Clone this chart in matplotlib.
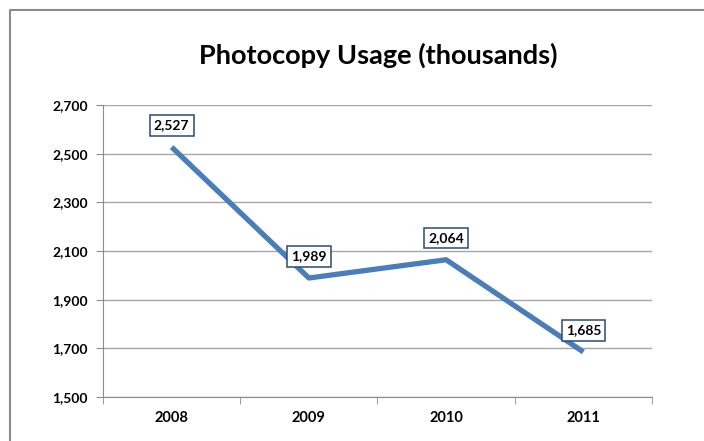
import numpy as np
import matplotlib.pyplot as plt
from matplotlib.lines import Line2D

years = ['2008', '2009', '2010', '2011']
usage = [2527, 1989, 2064, 1685]

plt.rcParams['font.family'] = ['Lato', 'DejaVu Sans']
plt.rcParams['font.weight'] = 'bold'

fig = plt.figure(figsize=(7.04, 4.41), dpi=100)
fig.patch.set_facecolor('white')

# borde del grafico (solo izquierda y arriba)
bx, by = 9.5/704, 1 - 9.5/441
fig.lines.append(Line2D([bx, bx, 1.0], [0.0, by, by], transform=fig.transFigure,
                        color='#8c8c8c', linewidth=1.5))

ax = fig.add_axes([103/704, 44/441, 549/704, 292/441])
x = np.arange(len(years))
ax.plot(x, usage, color='#4a7ebb', linewidth=3.8, solid_capstyle='butt', zorder=3)

for i, v in enumerate(usage):
    ax.annotate(f'{v:,}', (x[i], v), xytext=(0, 15.5), textcoords='offset points',
                ha='center', va='center', fontsize=10, fontweight='bold', color='black',
                bbox=dict(boxstyle='square,pad=0.3', fc='white', ec='#2b4a74', lw=1.1),
                zorder=4)

ax.set_xlim(-0.5, 3.5)
ax.set_ylim(1500, 2700)
ax.set_yticks(np.arange(1500, 2701, 200))
ax.set_yticklabels([f'{t:,}' for t in range(1500, 2701, 200)])
ax.set_xticks(x)
ax.set_xticklabels(years)
ax.set_xticks(np.arange(-0.5, 3.6, 1), minor=True)
ax.tick_params(axis='x', which='major', length=0, pad=10, labelsize=10.5)
ax.tick_params(axis='x', which='minor', length=5, color='#8c8c8c', direction='out')
ax.tick_params(axis='y', length=5, color='#8c8c8c', pad=6, labelsize=10)

ax.grid(axis='y', color='#a6a6a6', linewidth=1.0)
ax.set_axisbelow(True)
for s in ['top', 'right']:
    ax.spines[s].set_visible(False)
for s in ['left', 'bottom']:
    ax.spines[s].set_color('#8c8c8c')

fig.text(378/704, 1 - 55/441, 'Photocopy Usage (thousands)', ha='center', va='center',
         fontsize=19.5, fontweight='bold')

fig.savefig('out.png', dpi=100)
